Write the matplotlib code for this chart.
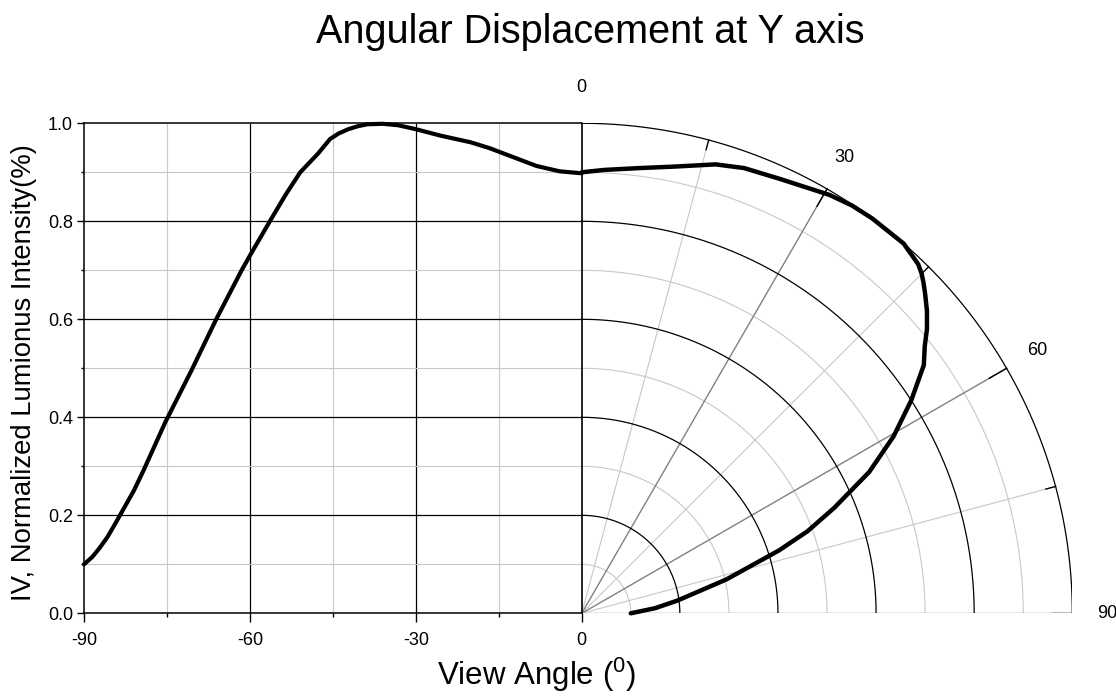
import numpy as np
import matplotlib.pyplot as plt

plt.rcParams['font.family'] = ['Liberation Sans', 'DejaVu Sans']
plt.rcParams['mathtext.fontset'] = 'custom'
plt.rcParams['mathtext.rm'] = 'Liberation Sans'
plt.rcParams['axes.unicode_minus'] = False

# --- data ---
# left half: cartesian, angle -90..0
angle_left = [-90, -88.5, -87.2, -85.8, -84.5, -81, -79.3, -77.5, -75.3, -70.6,
              -66.1, -61.5, -60, -56.4, -53.5, -50.9, -47.7, -45.5, -44, -42.2,
              -40.5, -38.8, -36, -33.2, -30, -25.6, -20, -16.6, -12.4, -8.2, -4, 0]
intensity_left = [0.10, 0.115, 0.133, 0.155, 0.18, 0.25, 0.29, 0.335, 0.39, 0.495,
                  0.60, 0.70, 0.73, 0.80, 0.855, 0.90, 0.938, 0.968, 0.979, 0.988,
                  0.994, 0.998, 0.999, 0.996, 0.988, 0.975, 0.961, 0.949, 0.931,
                  0.913, 0.902, 0.898]

# right half: polar, angle 0..90 from vertical
angle_right = [0, 2.9, 7.3, 11.7, 16.6, 20, 24.4, 30.6, 33.5, 36.3, 41, 43.9,
               45, 45.9, 47, 48.75, 50.5, 52.1, 54, 57.1, 60.4, 63.8, 67.3,
               70, 72.3, 76.8, 82.4, 86, 90]
intensity_right = [0.90, 0.906, 0.916, 0.931, 0.956, 0.967, 0.974, 0.992, 0.998,
                   1.0, 1.0, 0.989, 0.980, 0.970, 0.957, 0.936, 0.912, 0.886,
                   0.862, 0.800, 0.731, 0.653, 0.558, 0.49, 0.422, 0.303, 0.197,
                   0.15, 0.10]

x_ticks = [-90, -60, -30, 0]
x_minor = [-75, -45, -15]
y_ticks = [0.0, 0.2, 0.4, 0.6, 0.8, 1.0]
y_minor = [0.1, 0.3, 0.5, 0.7, 0.9]
polar_major = [30, 60, 90]
polar_minor = [15, 45, 75]
polar_labels = [0, 30, 60, 90]
ring_major = [0.2, 0.4, 0.6, 0.8, 1.0]
ring_minor = [0.1, 0.3, 0.5, 0.7, 0.9]

RX = 88.7   # x units that one unit of polar radius takes
LIGHT = '#c8c8c8'
MID = '#808080'


def to_xy(theta, r):
    t = np.radians(np.asarray(theta, dtype=float))
    r = np.asarray(r, dtype=float)
    return r * np.sin(t) * RX, r * np.cos(t)


fig = plt.figure(figsize=(11.16, 6.96), dpi=100)
ax = fig.add_axes([84 / 1116, 1 - 613.3 / 696, (1072.3 - 84) / 1116, 490 / 696])
ax.set_xlim(-90, RX)
ax.set_ylim(0, 1)

# spines only around the cartesian half
for side in ['left', 'bottom', 'top']:
    ax.spines[side].set_linewidth(1.1)
    ax.spines[side].set_zorder(5)
ax.spines['right'].set_visible(False)
ax.spines['bottom'].set_bounds(-90, 0)
ax.spines['top'].set_bounds(-90, 0)

ax.set_xticks(x_ticks)
ax.set_xticklabels([str(v) for v in x_ticks])
ax.set_xticks(x_minor, minor=True)
ax.set_yticks(y_ticks)
ax.set_yticklabels(['%.1f' % v for v in y_ticks])
ax.set_yticks(y_minor, minor=True)
ax.tick_params(axis='x', which='major', length=6.5, width=1, pad=7, labelsize=13)
ax.tick_params(axis='x', which='minor', length=3, width=1)
ax.tick_params(axis='y', which='major', length=5, width=1, pad=3, labelsize=13)
ax.tick_params(axis='y', which='minor', length=2.5, width=1)

# cartesian grid
ax.vlines(x_minor, 0, 1, color=LIGHT, lw=0.8, zorder=1)
ax.vlines([-60, -30], 0, 1, color='black', lw=0.9, zorder=1)
ax.hlines(y_minor, -90, 0, color=LIGHT, lw=0.8, zorder=1)
ax.hlines(y_ticks[1:-1], -90, 0, color='black', lw=0.9, zorder=1)

# polar grid
arc = np.linspace(0, 90, 181)
for r in ring_minor:
    px, py = to_xy(arc, r)
    ax.plot(px, py, color=LIGHT, lw=0.8, zorder=1)
for r in ring_major:
    px, py = to_xy(arc, r)
    ax.plot(px, py, color='black', lw=0.9, zorder=2)
for a in polar_minor:
    px, py = to_xy([a, a], [0, 1])
    ax.plot(px, py, color=LIGHT, lw=0.8, zorder=1)
for a in polar_major:
    px, py = to_xy([a, a], [0, 1])
    ax.plot(px, py, color=MID, lw=1.0, zorder=1.5)
ax.vlines(0, 0, 1, color='black', lw=1.2, zorder=3)

# ticks on the outer ring, pointing inward
for a in polar_major:
    px, py = to_xy([a, a], [1 - 20 / 490, 1])
    ax.plot(px, py, color='black', lw=1.0, zorder=3)
for a in polar_minor:
    px, py = to_xy([a, a], [1 - 10 / 490, 1])
    ax.plot(px, py, color='black', lw=1.0, zorder=3)

for a in polar_labels:
    px, py = to_xy(a, 1)
    t = np.radians(a)
    ax.annotate(str(a), (px, py), xytext=(35 * np.sin(t), 36 * np.cos(t)),
                textcoords='offset pixels', ha='center', va='center',
                fontsize=13, annotation_clip=False)

# the curve
ax.plot(angle_left, intensity_left, color='black', lw=3, zorder=4,
        solid_capstyle='round', solid_joinstyle='round', clip_on=False)
px, py = to_xy(angle_right, intensity_right)
ax.plot(px, py, color='black', lw=3.2, zorder=4,
        solid_capstyle='round', solid_joinstyle='round', clip_on=False)

fig.text(590 / 1116, 1 - 43 / 696, 'Angular Displacement at Y axis',
         ha='center', va='baseline', fontsize=28.5)
fig.text(11 / 1116, 1 - 373 / 696, 'IV, Normalized Lumionus Intensity(%)',
         rotation=90, ha='left', va='center', fontsize=19.8)
fig.text(537 / 1116, 1 - 685 / 696, r'View Angle ($\mathregular{^0}$)',
         ha='center', va='baseline', fontsize=22.5)

fig.savefig('out.png', dpi=100)
